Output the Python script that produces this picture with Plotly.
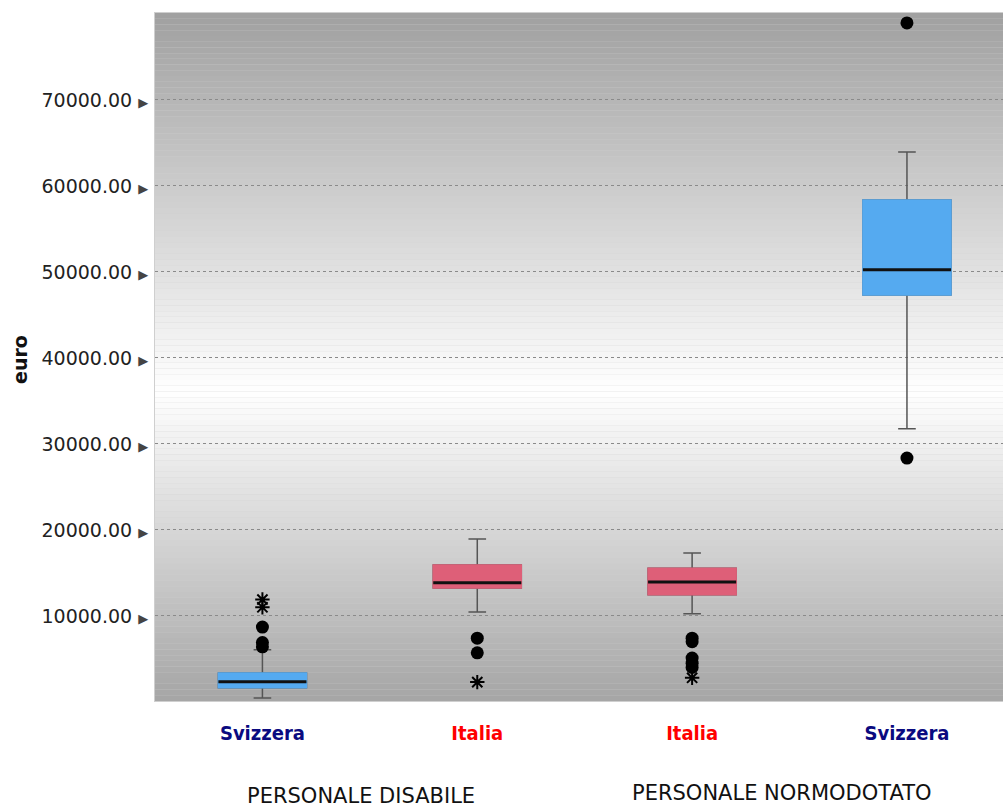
import plotly.graph_objects as go

# ---------------- data ----------------
categories = ["Svizzera", "Italia", "Italia", "Svizzera"]
label_colors = ["#0a0a80", "#ff0000", "#ff0000", "#0a0a80"]
group_labels = ["PERSONALE DISABILE", "PERSONALE NORMODOTATO"]
box_colors = ["#55aaf0", "#de5f78", "#de5f78", "#55aaf0"]

q1 = [1650, 13250, 12450, 47300]
median = [2350, 13850, 13950, 50250]
q3 = [3350, 15900, 15550, 58350]
lower_whisker = [450, 10450, 10250, 31750]
upper_whisker = [6050, 18950, 17300, 63950]

outliers = [[6400, 6900, 8700], [5700, 7400], [4000, 4500, 5100, 7000, 7400], [28350, 78950]]
extremes = [[11000, 11900], [2300], [2800], []]

y_ticks = [10000, 20000, 30000, 40000, 50000, 60000, 70000]

# ---------------- figure ----------------
fig = go.Figure()
positions = list(range(len(categories)))
BW = 0.41

for i, pos in enumerate(positions):
    # whiskers + outline (gray)
    fig.add_trace(go.Box(
        x=[pos], q1=[q1[i]], median=[median[i]], q3=[q3[i]],
        lowerfence=[lower_whisker[i]], upperfence=[upper_whisker[i]],
        width=BW, whiskerwidth=0.2, fillcolor=box_colors[i],
        line=dict(color="#555555", width=1.5), boxpoints=False,
        showlegend=False, hoverinfo="skip"))
    # body drawn over with its own colour (hides gray outline)
    fig.add_trace(go.Box(
        x=[pos], q1=[q1[i]], median=[median[i]], q3=[q3[i]],
        lowerfence=[q1[i]], upperfence=[q3[i]],
        width=BW, whiskerwidth=0, fillcolor=box_colors[i],
        line=dict(color=box_colors[i], width=1.5), boxpoints=False,
        showlegend=False, hoverinfo="skip"))

# median lines
mx, my = [], []
for i, pos in enumerate(positions):
    mx += [pos - BW / 2, pos + BW / 2, None]
    my += [median[i], median[i], None]
fig.add_trace(go.Scatter(x=mx, y=my, mode="lines",
                         line=dict(color="#111111", width=3),
                         showlegend=False, hoverinfo="skip"))

# outliers
ox, oy, sx, sy = [], [], [], []
for i, pos in enumerate(positions):
    ox += [pos] * len(outliers[i]); oy += outliers[i]
    sx += [pos] * len(extremes[i]); sy += extremes[i]
fig.add_trace(go.Scatter(x=ox, y=oy, mode="markers",
                         marker=dict(symbol="circle", size=13, color="black"),
                         showlegend=False))
fig.add_trace(go.Scatter(x=sx, y=sy, mode="markers",
                         marker=dict(symbol="asterisk-open", size=12, color="black",
                                     line=dict(color="black", width=2)),
                         showlegend=False))

# gradient background
N = 120
for k in range(N):
    t = (k + 0.5) / N  # from top
    if t < 0.55:
        v = 160 + (255 - 160) * (t / 0.55)
    else:
        v = 255 - (255 - 165) * ((t - 0.55) / 0.45)
    v = int(round(v))
    fig.add_shape(type="rect", xref="paper", yref="paper",
                  x0=0, x1=1, y0=1 - (k + 1) / N, y1=1 - k / N,
                  fillcolor=f"rgb({v},{v},{v})", line=dict(width=0),
                  layer="below")

tick_text = [f"{v:.2f}" + ' <span style="font-size:13px;color:#444">▶</span>' for v in y_ticks]
x_text = [f'<b><span style="color:{c}">{t}</span></b>' for t, c in zip(categories, label_colors)]

# plot area x 155..1003, y 13..701 (body margin removed below)
PW = 848  # plot width in px
PH = 688  # plot height in px
fig.update_layout(
    width=1003, height=807,
    margin=dict(l=155, r=0, t=13, b=106),
    paper_bgcolor="white", plot_bgcolor="#d0d0d0",
    boxmode="overlay",
    font=dict(family="DejaVu Sans", color="#222222"),
    xaxis=dict(range=[-0.5, 3.447], tickvals=positions, ticktext=x_text,
               tickfont=dict(family="DejaVu Sans Condensed", size=20),
               showgrid=False, zeroline=False, ticks="", ticklabelstandoff=14,
               showline=True, linecolor="#cfcfcf", linewidth=1, mirror=True),
    yaxis=dict(range=[100, 80100], tickvals=y_ticks, ticktext=tick_text,
               tickfont=dict(family="DejaVu Sans", size=19, color="#222222"),
               showgrid=True, gridcolor="#8a8a8a", griddash="dot", gridwidth=1,
               zeroline=False, ticks="", ticklabelstandoff=2,
               showline=True, linecolor="#cfcfcf", linewidth=1, mirror=True),
)

fig.add_annotation(text="<b>euro</b>", xref="paper", yref="paper",
                   x=(20 - 155) / PW, y=(701 - 360) / PH, textangle=-90,
                   xanchor="center", yanchor="middle",
                   showarrow=False, font=dict(family="DejaVu Sans", size=19, color="#111"))
fig.add_annotation(text=group_labels[0], xref="paper", yref="paper",
                   x=(361 - 155) / PW, y=-(796 - 701) / PH, showarrow=False,
                   xanchor="center", yanchor="middle",
                   font=dict(family="DejaVu Sans", size=21, color="#111"))
fig.add_annotation(text=group_labels[1], xref="paper", yref="paper",
                   x=(782 - 155) / PW, y=-(793 - 701) / PH, showarrow=False,
                   xanchor="center", yanchor="middle",
                   font=dict(family="DejaVu Sans", size=21, color="#111"))

fig.write_html("out.html",
               config={"displayModeBar": False},
               post_script="document.body.style.margin='0';document.body.style.overflow='hidden';")
